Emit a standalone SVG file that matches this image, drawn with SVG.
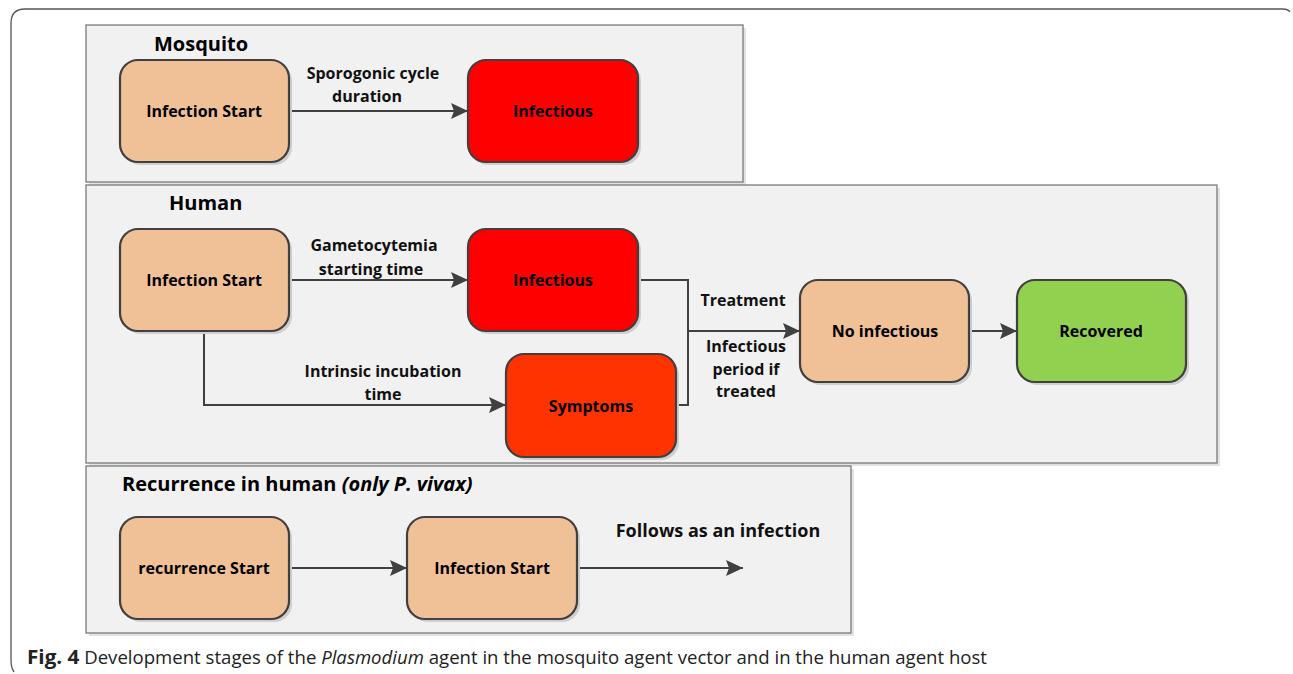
<svg xmlns="http://www.w3.org/2000/svg" width="1293" height="674" viewBox="0 0 1293 674">
<defs>
<marker id="arr" markerWidth="17" markerHeight="16" refX="17" refY="8" orient="auto" markerUnits="userSpaceOnUse">
<path d="M0,0 L17,8 L0,16 L3,8 Z" fill="#404040"/>
</marker>
<style>
.panel{fill:#f1f1f1;stroke:#7a7a7a;stroke-width:1.3}
.pshadow{fill:#e2e2e2}
.node{stroke:#404040;stroke-width:2.2}
.nshadow{fill:#cfcfcf}
.peach{fill:#f0c097}
.red{fill:#ff0000}
.orange{fill:#ff3300}
.green{fill:#92d050}
.nt{font-family:"Open Sans","Liberation Sans",sans-serif;font-weight:bold;font-size:16px;fill:#000;text-anchor:middle}
.lt{font-family:"Open Sans","Liberation Sans",sans-serif;font-weight:bold;font-size:16px;fill:#111;text-anchor:middle}
.big{font-size:18px}
.title{font-family:"Open Sans","Liberation Sans",sans-serif;font-weight:bold;font-size:20px;fill:#000}
.conn{fill:none;stroke:#404040;stroke-width:2}
.cap{font-family:"Open Sans","Liberation Sans",sans-serif;font-size:18px;fill:#222}
</style>
</defs>
<rect x="0" y="0" width="1293" height="674" fill="#ffffff"/>
<path d="M1290,12 Q1288,9 1283,9 L25,9 Q11,9 11,23 L11,660 Q11,668 14,672" fill="none" stroke="#555" stroke-width="1.3"/>

<g id="panel-mosquito">
<rect class="pshadow" x="89" y="28" width="657" height="157"/>
<rect class="panel" x="86" y="25" width="657" height="157"/>
<text class="title" x="154" y="51">Mosquito</text>
</g>
<g id="panel-human">
<rect class="pshadow" x="89" y="188" width="1131" height="278"/>
<rect class="panel" x="86" y="185" width="1131" height="278"/>
<text class="title" x="169" y="210">Human</text>
</g>
<g id="panel-recurrence">
<rect class="pshadow" x="89" y="469" width="765" height="167"/>
<rect class="panel" x="86" y="466" width="765" height="167"/>
<text class="title" x="122" y="491">Recurrence in human <tspan font-style="italic">(only P. vivax)</tspan></text>
</g>

<g id="connectors">
<line class="conn" x1="290" y1="111" x2="468" y2="111" marker-end="url(#arr)"/>
<line class="conn" x1="290" y1="280" x2="468" y2="280" marker-end="url(#arr)"/>
<polyline class="conn" points="204,331 204,405 506,405" marker-end="url(#arr)"/>
<polyline class="conn" points="638,280 688,280 688,405 676,405"/>
<line class="conn" x1="688" y1="331" x2="800" y2="331" marker-end="url(#arr)"/>
<line class="conn" x1="970" y1="331" x2="1017" y2="331" marker-end="url(#arr)"/>
<line class="conn" x1="290" y1="568" x2="407" y2="568" marker-end="url(#arr)"/>
<line class="conn" x1="578" y1="568" x2="743" y2="568" marker-end="url(#arr)"/>
<text class="lt" x="373" y="79">Sporogonic cycle</text>
<text class="lt" x="367" y="102">duration</text>
<text class="lt" x="374" y="251">Gametocytemia</text>
<text class="lt" x="371" y="275">starting time</text>
<text class="lt" x="383" y="377">Intrinsic incubation</text>
<text class="lt" x="383" y="400">time</text>
<text class="lt" x="743" y="306">Treatment</text>
<text class="lt" x="746" y="352">Infectious</text>
<text class="lt" x="746" y="375">period if</text>
<text class="lt" x="746" y="397">treated</text>
<text class="lt big" x="718" y="537">Follows as an infection</text>
</g>

<g id="m-infection-start">
<rect class="nshadow" x="123" y="63" width="169" height="102" rx="18"/>
<rect class="node peach" x="120" y="60" width="169" height="102" rx="18"/>
<text class="nt" x="204" y="117">Infection Start</text>
</g>
<g id="m-infectious">
<rect class="nshadow" x="471" y="63" width="170" height="102" rx="18"/>
<rect class="node red" x="468" y="60" width="170" height="102" rx="18"/>
<text class="nt" x="553" y="117">Infectious</text>
</g>
<g id="h-infection-start">
<rect class="nshadow" x="123" y="232" width="169" height="102" rx="18"/>
<rect class="node peach" x="120" y="229" width="169" height="102" rx="18"/>
<text class="nt" x="204" y="286">Infection Start</text>
</g>
<g id="h-infectious">
<rect class="nshadow" x="471" y="232" width="170" height="102" rx="18"/>
<rect class="node red" x="468" y="229" width="170" height="102" rx="18"/>
<text class="nt" x="553" y="286">Infectious</text>
</g>
<g id="h-symptoms">
<rect class="nshadow" x="509" y="357" width="170" height="103" rx="18"/>
<rect class="node orange" x="506" y="354" width="170" height="103" rx="18"/>
<text class="nt" x="591" y="412">Symptoms</text>
</g>
<g id="h-no-infectious">
<rect class="nshadow" x="803" y="283" width="169" height="102" rx="18"/>
<rect class="node peach" x="800" y="280" width="169" height="102" rx="18"/>
<text class="nt" x="885" y="337">No infectious</text>
</g>
<g id="h-recovered">
<rect class="nshadow" x="1020" y="283" width="169" height="102" rx="18"/>
<rect class="node green" x="1017" y="280" width="169" height="102" rx="18"/>
<text class="nt" x="1101" y="337">Recovered</text>
</g>
<g id="r-recurrence-start">
<rect class="nshadow" x="123" y="520" width="169" height="102" rx="18"/>
<rect class="node peach" x="120" y="517" width="169" height="102" rx="18"/>
<text class="nt" x="204" y="574">recurrence Start</text>
</g>
<g id="r-infection-start">
<rect class="nshadow" x="410" y="520" width="170" height="102" rx="18"/>
<rect class="node peach" x="407" y="517" width="170" height="102" rx="18"/>
<text class="nt" x="492" y="574">Infection Start</text>
</g>

<g id="caption">
<text class="cap" x="27" y="664" textLength="960" lengthAdjust="spacingAndGlyphs"><tspan font-weight="bold" style="font-size:20px">Fig. 4</tspan>  Development stages of the <tspan font-style="italic">Plasmodium</tspan> agent in the mosquito agent vector and in the human agent host</text>
</g>
</svg>
